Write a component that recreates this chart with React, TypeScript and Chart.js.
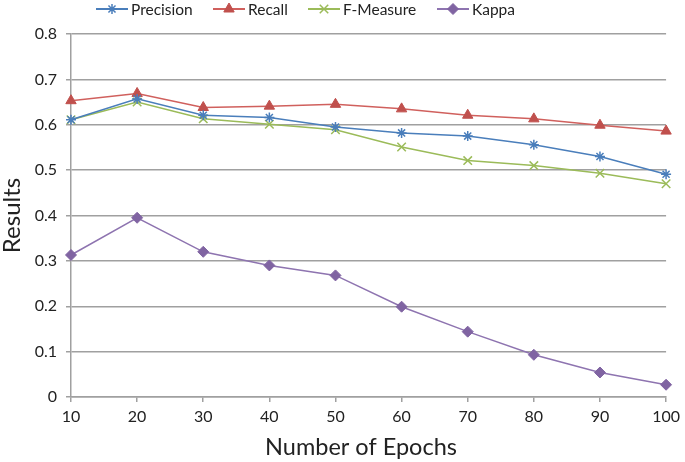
import React, { useEffect, useRef } from 'react';
import { Chart, registerables } from 'chart.js';
import { drawPoint } from 'chart.js/helpers';

Chart.register(...registerables);

const epochs = ['10', '20', '30', '40', '50', '60', '70', '80', '90', '100'];
const precision = [0.611, 0.657, 0.621, 0.616, 0.595, 0.582, 0.575, 0.556, 0.53, 0.491];
const recall = [0.653, 0.669, 0.638, 0.641, 0.645, 0.635, 0.621, 0.613, 0.599, 0.586];
const fMeasure = [0.611, 0.65, 0.613, 0.601, 0.589, 0.551, 0.521, 0.51, 0.493, 0.47];
const kappa = [0.313, 0.395, 0.32, 0.29, 0.268, 0.199, 0.144, 0.093, 0.054, 0.027];
const xTitle = 'Number of Epochs';
const yTitle = 'Results';

const FONT = 'Lato, "Open Sans", sans-serif';

const legendPlugin = {
  id: 'lineLegend',
  afterDraw(chart: any) {
    const ctx = chart.ctx;
    const starts = [96, 213, 308, 437];
    const y = 9;
    ctx.save();
    chart.data.datasets.forEach((ds: any, i: number) => {
      const x0 = starts[i];
      const x1 = x0 + 32;
      ctx.strokeStyle = ds.borderColor;
      ctx.lineWidth = 2;
      ctx.beginPath();
      ctx.moveTo(x0, y);
      ctx.lineTo(x1, y);
      ctx.stroke();
      ctx.fillStyle = ds.pointBackgroundColor;
      ctx.strokeStyle = ds.pointBorderColor;
      ctx.lineWidth = ds.pointBorderWidth;
      drawPoint(ctx, { pointStyle: ds.pointStyle, radius: ds.pointRadius, borderWidth: ds.pointBorderWidth, rotation: 0 }, (x0 + x1) / 2, y);
      ctx.fillStyle = '#222';
      ctx.font = `15.5px ${FONT}`;
      ctx.textBaseline = 'middle';
      ctx.textAlign = 'left';
      ctx.fillText(ds.label, x1 + 3, y + 1);
    });
    // x axis title, centred where the reference places it
    ctx.fillStyle = '#222';
    ctx.font = `23.5px ${FONT}`;
    ctx.textAlign = 'center';
    ctx.textBaseline = 'middle';
    ctx.fillText(xTitle, 361, 447);
    ctx.restore();
  },
};

export default function App() {
  const ref = useRef<HTMLCanvasElement>(null);
  useEffect(() => {
    document.body.style.margin = '0';
    const grid = '#a0a0a0';
    const chart = new Chart(ref.current!, {
      type: 'line',
      data: {
        labels: epochs,
        datasets: [
          {
            label: 'Precision', data: precision, borderColor: '#4A7EBB', backgroundColor: '#4A7EBB',
            pointStyle: 'star', pointRadius: 5, pointBorderColor: '#4A7EBB', pointBackgroundColor: '#4A7EBB', pointBorderWidth: 1.5, borderWidth: 1.5,
          },
          {
            label: 'Recall', data: recall, borderColor: '#D0605D', backgroundColor: '#C0504D',
            pointStyle: 'triangle', pointRadius: 6, pointBorderColor: '#C0504D', pointBackgroundColor: '#C0504D', pointBorderWidth: 1, borderWidth: 1.5,
          },
          {
            label: 'F-Measure', data: fMeasure, borderColor: '#9BBB59', backgroundColor: '#9BBB59',
            pointStyle: 'crossRot', pointRadius: 6, pointBorderColor: '#9BBB59', pointBackgroundColor: '#9BBB59', pointBorderWidth: 1.5, borderWidth: 1.5,
          },
          {
            label: 'Kappa', data: kappa, borderColor: '#8E74B0', backgroundColor: '#8064A2',
            pointStyle: 'rectRot', pointRadius: 5.5, pointBorderColor: '#8064A2', pointBackgroundColor: '#8064A2', pointBorderWidth: 1, borderWidth: 1.5,
          },
        ],
      },
      options: {
        responsive: false,
        animation: false,
        layout: { padding: { top: 34, right: 16, left: 0, bottom: 0 } },
        plugins: { legend: { display: false }, tooltip: { enabled: false } },
        scales: {
          x: {
            offset: false,
            grid: { display: true, drawOnChartArea: false, drawTicks: true, tickLength: 5, color: grid, lineWidth: 1.5 },
            border: { color: grid, width: 1.5 },
            ticks: { color: '#222', font: { family: FONT, size: 16 }, padding: 5, maxRotation: 0, autoSkip: false },
            title: { display: false, text: xTitle },
            afterFit: (s: any) => { s.height = 65; },
          },
          y: {
            min: 0, max: 0.8,
            grid: { color: grid, lineWidth: 1.5, tickLength: 5 },
            border: { color: grid, width: 1.5 },
            ticks: { stepSize: 0.1, color: '#222', font: { family: FONT, size: 16 }, padding: 9, callback: (v: any) => (Math.round(v * 10) / 10).toString() },
            title: { display: true, text: yTitle, color: '#222', font: { family: FONT, size: 24 }, padding: { top: -2, bottom: 0 } },
            afterFit: (s: any) => { s.width = 71; },
          },
        },
      },
      plugins: [legendPlugin],
    });
    return () => chart.destroy();
  }, []);
  return (
    <div style={{ width: 685, height: 462 }}>
      <canvas ref={ref} width={685} height={462} style={{ display: 'block' }} />
    </div>
  );
}
